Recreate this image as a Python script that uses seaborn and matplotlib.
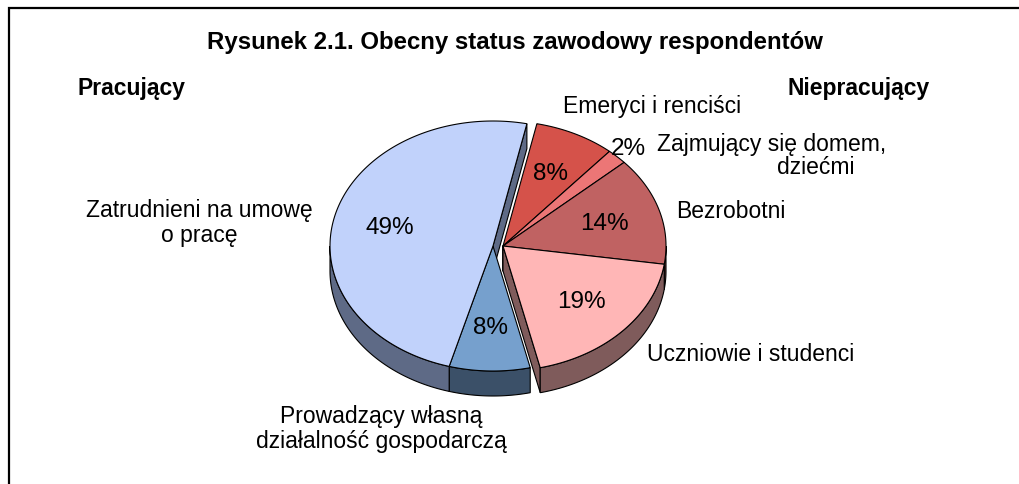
import numpy as np
import matplotlib
matplotlib.use('Agg')
import matplotlib.pyplot as plt
from matplotlib.patches import Polygon
import seaborn as sns

# Slices in clockwise order, starting near 12 o'clock
labels = ['Emeryci i renciści', 'Zajmujący się domem, dziećmi', 'Bezrobotni',
          'Uczniowie i studenci', 'Prowadzący własną działalność gospodarczą',
          'Zatrudnieni na umowę o pracę']
values = [8, 2, 14, 19, 8, 49]
top_colors = ['#D5524A', '#EC7676', '#C06262', '#FFB6B6', '#76A0CD', '#C1D2FB']
side_colors = ['#6B2925', '#763B3B', '#603131', '#7F5B5B', '#3B5068', '#5E6A86']
explode = [5, 5, 5, 5, -5, -5]   # horizontal shift of the two groups (px)

sns.set_theme(style='white')
plt.rcParams['font.family'] = ['Liberation Sans', 'DejaVu Sans']
plt.rcParams['text.color'] = 'black'

fig = plt.figure(figsize=(10.2, 4.85), dpi=100)
ax = fig.add_axes([0, 0, 1, 1])
ax.set_xlim(0, 1020)
ax.set_ylim(485, 0)
ax.axis('off')

# pie geometry in pixels
cx, cy, rx, ry, depth = 498, 247, 163, 125, 25
start = 78.0


def pt(theta, off, r=1.0, dz=0):
    t = np.radians(theta)
    return cx + off + r * rx * np.cos(t), cy - r * ry * np.sin(t) + dz


# angle ranges (math angles, lo < hi)
ranges = []
cum = 0
for v in values:
    hi = start - cum * 3.6
    lo = hi - v * 3.6
    ranges.append((lo, hi))
    cum += v

lw = 0.8
# radial faces visible through the gap
for (lo, hi), off, sc in zip(ranges, explode, side_colors):
    for ang, vis in [(lo, np.cos(np.radians(lo)) > 0), (hi, np.cos(np.radians(hi)) < 0)]:
        if vis:
            c0 = pt(0, off, r=0)
            r0 = pt(ang, off)
            poly = [c0, r0, (r0[0], r0[1] + depth), (c0[0], c0[1] + depth)]
            ax.add_patch(Polygon(poly, closed=True, fc=sc, ec='black', lw=lw))

# outer walls (front half only)
for (lo, hi), off, sc in zip(ranges, explode, side_colors):
    for k in (-1, 0, 1):
        a = max(lo, -180 + 360 * k)
        b = min(hi, 360 * k)
        if b - a <= 0.01:
            continue
        th = np.linspace(a, b, 80)
        upper = [pt(t, off) for t in th]
        lower = [pt(t, off, dz=depth) for t in th[::-1]]
        ax.add_patch(Polygon(upper + lower, closed=True, fc=sc, ec='black', lw=lw))

# tops
for (lo, hi), off, tc in zip(ranges, explode, top_colors):
    th = np.linspace(hi, lo, 150)
    poly = [pt(0, off, r=0)] + [pt(t, off) for t in th]
    ax.add_patch(Polygon(poly, closed=True, fc=tc, ec='black', lw=lw, joinstyle='miter'))

# percentage labels
fs = 16.5
for (lo, hi), off, v in zip(ranges, explode, values):
    mid = (lo + hi) / 2
    r = 0.65 if v > 3 else 1.1
    x, y = pt(mid, off, r=r)
    ax.text(x, y, f'{v}%', ha='center', va='center', fontsize=17.5, color='black')

# category labels
ax.text(199, 223, 'Zatrudnieni na umowę\no pracę', ha='center', va='center',
        fontsize=fs, linespacing=1.15)
ax.text(381, 429, 'Prowadzący własną\ndziałalność gospodarczą', ha='center', va='center',
        fontsize=fs, linespacing=1.15)
ax.text(647, 355, 'Uczniowie i studenci', ha='left', va='center', fontsize=fs)
ax.text(676, 212, 'Bezrobotni', ha='left', va='center', fontsize=fs)
ax.text(657, 145, 'Zajmujący się domem,', ha='left', va='center', fontsize=fs)
ax.text(777, 168, 'dziećmi', ha='left', va='center', fontsize=fs)
ax.text(563, 107, 'Emeryci i renciści', ha='left', va='center', fontsize=fs)

ax.text(78, 88, 'Pracujący', ha='left', va='center', fontsize=fs, fontweight='bold')
ax.text(788, 88, 'Niepracujący', ha='left', va='center', fontsize=fs, fontweight='bold')
ax.text(515, 42, 'Rysunek 2.1. Obecny status zawodowy respondentów', ha='center',
        va='center', fontsize=17.3, fontweight='bold')

# frame (cropped on the right and bottom)
ax.plot([9, 9, 1020], [485, 9, 9], color='black', lw=1.6, solid_joinstyle='miter')

fig.savefig('out.png', dpi=100)
